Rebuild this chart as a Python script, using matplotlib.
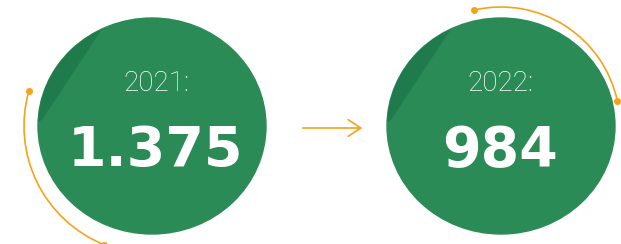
import numpy as np
import matplotlib.pyplot as plt
from matplotlib.patches import Ellipse, Arc, Polygon, FancyArrowPatch

# datos
years = ['2021:', '2022:']
values = ['1.375', '984']

# layout (pixeles)
centers_x = [152, 501]
text_x = [156, 500]
center_y = 126
arc_radius = [128, 119]
arc_angles = [(112, 196), (257, 348)]

green = '#2b8b57'
dark_green = '#1b7548'
orange = '#f5a31b'

fig = plt.figure(figsize=(6.21, 2.44), dpi=100)
ax = fig.add_axes([0, 0, 1, 1])
ax.set_xlim(0, 621)
ax.set_ylim(244, 0)
ax.axis('off')

for i in range(len(years)):
    cx = centers_x[i]
    blob = Ellipse((cx, center_y), 228, 216, color=green, zorder=1)
    ax.add_patch(blob)
    # franja oscura arriba a la izquierda
    off = cx - centers_x[0]
    stripe = Polygon([(0 + off, 0), (108 + off, 0), (108 + off, 20), (42 + off, 120), (0 + off, 140)],
                     closed=True, color=dark_green, alpha=0.7, zorder=2, lw=0)
    ax.add_patch(stripe)
    stripe.set_clip_path(blob)

    t1, t2 = arc_angles[i]
    r = arc_radius[i]
    ax.add_patch(Arc((cx, center_y), 2 * r, 2 * r, theta1=t1, theta2=t2,
                     color=orange, lw=1.2, zorder=3))
    for t in (t1, t2):
        ax.plot(cx + r * np.cos(np.radians(t)), center_y + r * np.sin(np.radians(t)),
                'o', color=orange, ms=4, zorder=4)

    ax.text(text_x[i], 91, years[i], color='white', fontsize=20, fontfamily='Roboto',
            fontweight='light', ha='center', va='baseline', zorder=5)
    ax.text(text_x[i], 166, values[i], color='white', fontsize=40, fontfamily='DejaVu Sans',
            fontweight='bold', ha='center', va='baseline', zorder=5)

ax.add_patch(FancyArrowPatch((300, 128), (365, 128), arrowstyle='->,head_length=0.9,head_width=0.6',
                             mutation_scale=10, color=orange, lw=1.2, zorder=3))

fig.savefig('out.png', dpi=100)
